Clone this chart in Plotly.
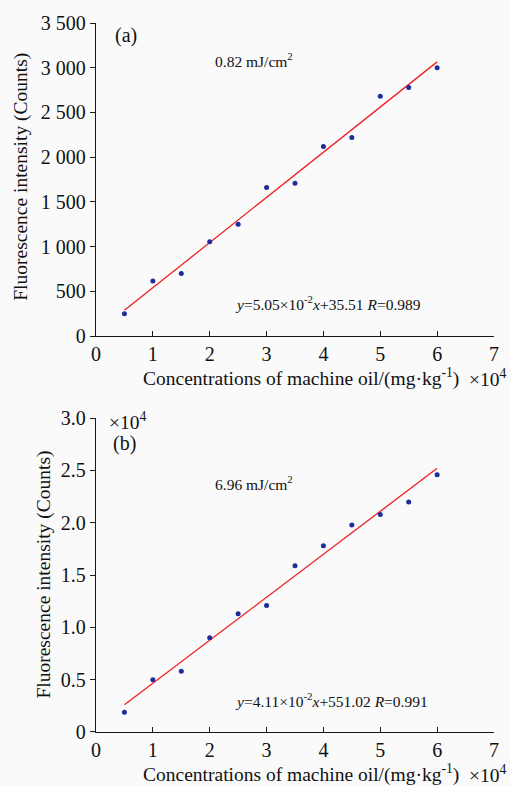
import plotly.graph_objects as go

# Data (x in units of 10^4 mg/kg)
conc = [0.5, 1.0, 1.5, 2.0, 2.5, 3.0, 3.5, 4.0, 4.5, 5.0, 5.5, 6.0]
intensity_a = [250, 615, 700, 1055, 1250, 1660, 1710, 2120, 2220, 2680, 2780, 3000]
# panel (b) values in units of 10^4 counts
intensity_b = [0.19, 0.50, 0.58, 0.90, 1.13, 1.21, 1.59, 1.78, 1.98, 2.08, 2.20, 2.46]

# linear fits: counts = slope * x(mg/kg) + intercept
slope_a, intercept_a = 5.05e-2, 35.51
slope_b, intercept_b = 0.411, 551.02

x_ticks = [0, 1, 2, 3, 4, 5, 6, 7]
y_ticks_a = [0, 500, 1000, 1500, 2000, 2500, 3000, 3500]
y_ticklabels_a = ["0", "500", "1 000", "1 500", "2 000", "2 500", "3 000", "3 500"]
y_ticks_b = [0, 0.5, 1.0, 1.5, 2.0, 2.5, 3.0]
y_ticklabels_b = ["0", "0.5", "1.0", "1.5", "2.0", "2.5", "3.0"]

fit_x = [conc[0], conc[-1]]
fit_a = [slope_a * v * 1e4 + intercept_a for v in fit_x]
fit_b = [(slope_b * v * 1e4 + intercept_b) / 1e4 for v in fit_x]

FONT = "Liberation Serif, Times New Roman, serif"
MARK = "#1f2d9c"
LINE = "#ee2020"
BG = "#fafafa"

fig = go.Figure()
fig.add_trace(go.Scatter(x=fit_x, y=fit_a, mode="lines", line=dict(color=LINE, width=1.3),
                         xaxis="x", yaxis="y", showlegend=False))
fig.add_trace(go.Scatter(x=conc, y=intensity_a, mode="markers", marker=dict(color=MARK, size=5),
                         xaxis="x", yaxis="y", showlegend=False))
fig.add_trace(go.Scatter(x=fit_x, y=fit_b, mode="lines", line=dict(color=LINE, width=1.3),
                         xaxis="x2", yaxis="y2", showlegend=False))
fig.add_trace(go.Scatter(x=conc, y=intensity_b, mode="markers", marker=dict(color=MARK, size=5),
                         xaxis="x2", yaxis="y2", showlegend=False))

axis_common = dict(showline=True, linecolor="#1a1a1a", linewidth=1.3, showgrid=False,
                   zeroline=False, ticklen=5, tickwidth=1.3, tickcolor="#1a1a1a",
                   tickfont=dict(family=FONT, size=20, color="#111"))

fig.update_layout(
    width=511, height=786,
    margin=dict(l=96, r=16, t=21, b=54),
    paper_bgcolor=BG, plot_bgcolor=BG,
    font=dict(family=FONT, color="#111"),
    xaxis=dict(domain=[0, 1], anchor="y", range=[0, 7], tickvals=x_ticks, ticks="inside",
               **axis_common),
    yaxis=dict(domain=[0.5584, 1.0], anchor="x", range=[0, 3500], tickvals=y_ticks_a,
               ticktext=y_ticklabels_a, ticks="outside", **axis_common),
    xaxis2=dict(domain=[0, 1], anchor="y2", range=[0, 7], tickvals=x_ticks, ticks="inside",
                **axis_common),
    yaxis2=dict(domain=[0.0, 0.4426], anchor="x2", range=[0, 3.0], tickvals=y_ticks_b,
                ticktext=y_ticklabels_b, ticks="outside", **axis_common),
)

def px_x(p):
    return (p - 96) / 399.0

def px_y(p):
    return (732 - p) / 711.0

ann = []
def add(text, x, y, size, xanchor="center", angle=0):
    ann.append(dict(text=text, xref="paper", yref="paper", x=px_x(x), y=px_y(y),
                    xanchor=xanchor, yanchor="middle", showarrow=False, textangle=angle,
                    font=dict(family=FONT, size=size, color="#111")))

# panel (a)
add("(a)", 126, 34, 20)
add("0.82 mJ/cm<sup>2</sup>", 213, 58, 15.5, xanchor="left")
add("<i>y</i>=5.05×10<sup>-2</sup><i>x</i>+35.51 <i>R</i>=0.989", 233, 302, 15.5, xanchor="left")
add("Fluorescence intensity (Counts)", 20, 175, 19.5, angle=-90)
add("Concentrations of machine oil/(mg·kg<sup>-1</sup>)", 302, 377, 19.5)
add("×10<sup>4</sup>", 510, 377, 19.5, xanchor="right")

# panel (b)
add("×10<sup>4</sup>", 107, 420, 19.5, xanchor="left")
add("(b)", 125, 443, 20)
add("6.96 mJ/cm<sup>2</sup>", 213, 482, 15.5, xanchor="left")
add("<i>y</i>=4.11×10<sup>-2</sup><i>x</i>+551.02 <i>R</i>=0.991", 233, 700, 15.5, xanchor="left")
add("Fluorescence intensity (Counts)", 44, 574, 19.5, angle=-90)
add("Concentrations of machine oil/(mg·kg<sup>-1</sup>)", 302, 774, 19.5)
add("×10<sup>4</sup>", 510, 774, 19.5, xanchor="right")

fig.update_layout(annotations=ann)
fig.write_html("out.html", config={"displayModeBar": False},
               post_script="document.body.style.margin='0';document.body.style.overflow='hidden';")
